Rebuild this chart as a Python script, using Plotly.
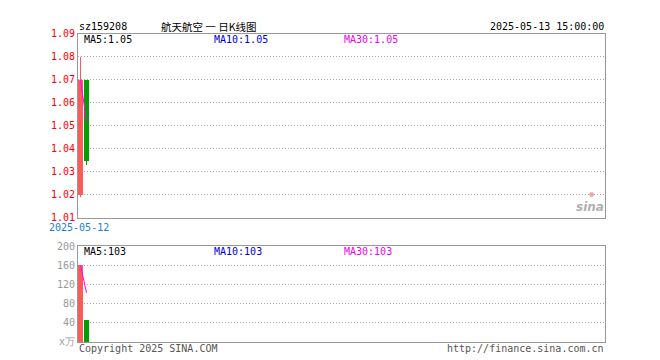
import plotly.graph_objects as go

# ---- data ----
code = "sz159208"
title = "航天航空 一 日K线图"
stamp = "2025-05-13 15:00:00"
dates = ["2025-05-12", "2025-05-13"]
idx = [0, 1]
open_ = [1.020, 1.070]
high = [1.080, 1.070]
low = [1.019, 1.033]
close = [1.070, 1.035]
volume = [160, 46]
ma_price = [1.070, 1.052]
ma_vol = [160, 103]
ma_price_labels = {"MA5": "1.05", "MA10": "1.05", "MA30": "1.05"}
ma_vol_labels = {"MA5": "103", "MA10": "103", "MA30": "103"}
price_ticks = [1.01, 1.02, 1.03, 1.04, 1.05, 1.06, 1.07, 1.08, 1.09]
vol_ticks = [0, 40, 80, 120, 160, 200]
vol_ticktext = ["x万", "40", "80", "120", "160", "200"]

W, H = 660, 360
RED = "#ff5a5a"
GREEN = "#00a000"
MONO = "DejaVu Sans Mono"

def px(x):
    return x / W

def py(y):
    return 1 - y / H

fig = go.Figure()

colors = [RED if c >= o else GREEN for o, c in zip(open_, close)]
base = [min(o, c) for o, c in zip(open_, close)]
body = [abs(c - o) for o, c in zip(open_, close)]

# wicks
for i, lo, hi, col in zip(idx, low, high, colors):
    fig.add_trace(go.Scatter(x=[i, i], y=[lo, hi], mode="lines",
                             line=dict(color=col, width=1),
                             xaxis="x", yaxis="y", hoverinfo="skip", showlegend=False))
# bodies
fig.add_trace(go.Bar(x=idx, y=body, base=base, marker=dict(color=colors, line=dict(width=0)),
                     width=0.85, xaxis="x", yaxis="y", showlegend=False))
# MA lines (all identical -> magenta on top)
fig.add_trace(go.Scatter(x=idx, y=ma_price, mode="lines", line=dict(color="#ff00ff", width=1),
                         xaxis="x", yaxis="y", showlegend=False))
# volume
fig.add_trace(go.Bar(x=idx, y=volume, marker=dict(color=colors, line=dict(width=0)),
                     width=0.85, xaxis="x2", yaxis="y2", showlegend=False))
fig.add_trace(go.Scatter(x=idx, y=ma_vol, mode="lines", line=dict(color="#ff00ff", width=1),
                         xaxis="x2", yaxis="y2", showlegend=False))

xr = [-0.4167, -0.4167 + 527 / 6]
xdom = [px(70), px(597)]
axis_common = dict(showline=True, linecolor="#999999", linewidth=1, mirror=True,
                   zeroline=False)
grid = dict(showgrid=True, gridcolor="#aaaaaa", griddash="1px,2px", gridwidth=1)
fig.update_layout(
    width=W, height=H, autosize=False,
    margin=dict(l=0, r=0, t=0, b=0),
    paper_bgcolor="white", plot_bgcolor="white",
    barmode="overlay", bargap=0,
    xaxis=dict(domain=xdom, range=xr, showgrid=False, showticklabels=False,
               anchor="y", **axis_common),
    yaxis=dict(domain=[py(211), py(20.5)], range=[1.01, 1.09], tickvals=price_ticks,
               tickformat=".2f", tickfont=dict(family=MONO, size=10, color="#ff0000"),
               ticks="", anchor="x", **grid, **axis_common),
    xaxis2=dict(domain=xdom, range=xr, showgrid=False, showticklabels=False,
                anchor="y2", **axis_common),
    yaxis2=dict(domain=[py(339.3), py(240.5)], range=[0, 200], tickvals=vol_ticks,
                ticktext=vol_ticktext,
                tickfont=dict(family=MONO, size=10, color="#999999"),
                ticks="", anchor="x2", **grid, **axis_common),
)

def ann(text, x, y, color="#000000", anchor="left", size=10, family=MONO, **kw):
    fig.add_annotation(text=text, x=px(x), y=py(y), xref="paper", yref="paper",
                       xanchor=anchor, yanchor="middle", showarrow=False,
                       font=dict(family=family, size=size, color=color), **kw)

ann(code, 69, 12.5)
ann(title, 151, 12.5, family="Noto Sans CJK SC", size=10.5)
ann(stamp, 598, 12.5, anchor="right")

ma_cols = {"MA5": "#000000", "MA10": "#0000dd", "MA30": "#ee00ee"}
ma_x = {"MA5": 74, "MA10": 204, "MA30": 334}
for k in ["MA5", "MA10", "MA30"]:
    ann(f"{k}:{ma_price_labels[k]}", ma_x[k], 26, color=ma_cols[k])
    ann(f"{k}:{ma_vol_labels[k]}", ma_x[k], 246, color=ma_cols[k])

ann(dates[0], 39, 221, color="#1a7fd6")
ann("Copyright 2025 SINA.COM", 69, 346, color="#555555")
ann("http://finance.sina.com.cn", 598, 346, anchor="right", color="#555555")
ann("<b><i>sina</i></b>", 598, 200, anchor="right", color="#b0b0b0",
    family="DejaVu Sans", size=12)
ann("●", 583, 186, anchor="center", color="#f4a0a0", family="DejaVu Sans", size=6)

fig.write_html("out.html")
